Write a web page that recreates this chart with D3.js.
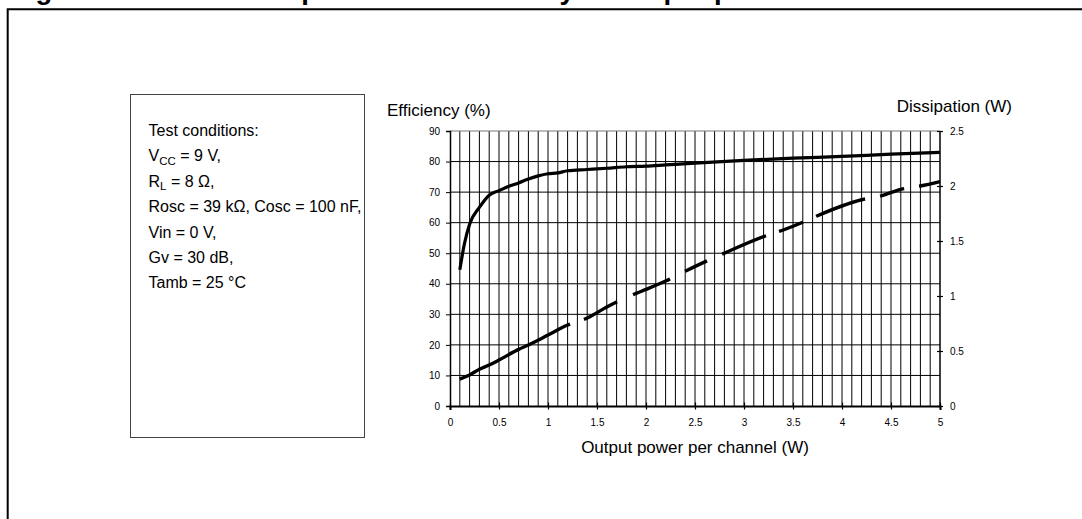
<!DOCTYPE html>
<html><head><meta charset="utf-8">
<script src="https://cdn.jsdelivr.net/npm/d3@7"></script>
<style>
html,body{margin:0;padding:0;background:#fff;}
svg{display:block;}
text{font-family:"Liberation Sans",Arial,Helvetica,sans-serif;fill:#000;}
</style></head>
<body>
<svg id="chart" width="1082" height="519"></svg>
<script>
// ---------- data ----------
const titleText = "Figure 18. Power dissipation and efficiency vs output power";
const xLabel = "Output power per channel (W)";
const yLeftLabel = "Efficiency (%)";
const yRightLabel = "Dissipation (W)";
const xTicks = [0, 0.5, 1, 1.5, 2, 2.5, 3, 3.5, 4, 4.5, 5];
const xTickLabels = ["0", "0.5", "1", "1.5", "2", "2.5", "3", "3.5", "4", "4.5", "5"];
const yLeftTicks = [0, 10, 20, 30, 40, 50, 60, 70, 80, 90];
const yRightTicks = [0, 0.5, 1, 1.5, 2, 2.5];
const yRightTickLabels = ["0", "0.5", "1", "1.5", "2", "2.5"];

// Efficiency (%) vs output power (W)
const effPower = [0.1, 0.15, 0.2, 0.3, 0.4, 0.5, 0.6, 0.7, 0.8, 0.9, 1.0, 1.1, 1.2, 1.4, 1.6, 1.8, 2.0, 2.2, 2.5, 3.0, 3.5, 4.0, 4.5, 5.0];
const effValues = [44.6, 53.5, 59.5, 65.0, 69.0, 70.5, 71.9, 73.0, 74.3, 75.3, 76.0, 76.3, 77.0, 77.4, 77.8, 78.3, 78.5, 78.9, 79.5, 80.4, 81.1, 81.7, 82.4, 83.0];

// Dissipation (W) vs output power (W)
const dissPower = [0.1, 0.2, 0.3, 0.4, 0.5, 0.7, 0.8, 1.0, 1.2, 1.4, 1.6, 1.7, 1.9, 2.0, 2.2, 2.4, 2.6, 2.8, 3.2, 3.4, 3.6, 3.75, 4.2, 4.4, 4.6, 4.8, 5.0];
const dissValues = [0.245, 0.282, 0.334, 0.373, 0.418, 0.515, 0.555, 0.645, 0.736, 0.80, 0.90, 0.946, 1.024, 1.06, 1.136, 1.225, 1.31, 1.39, 1.54, 1.60, 1.67, 1.73, 1.875, 1.91, 1.97, 2.00, 2.04];

// Test conditions box text (pieces: [text, isSubscript])
const conditionLines = [
  [["Test conditions:", false]],
  [["V", false], ["CC", true], [" = 9 V,", false]],
  [["R", false], ["L", true], [" = 8 \u03A9,", false]],
  [["Rosc = 39 k\u03A9, Cosc = 100 nF,", false]],
  [["Vin = 0 V,", false]],
  [["Gv = 30 dB,", false]],
  [["Tamb = 25 \u00B0C", false]]
];

// ---------- layout / style ----------
const W = 1082, H = 519;
const plot = {left: 450, right: 940, top: 131, bottom: 406};
// gaps of the long-dash line, expressed along the x axis (W)
const dashGaps = [[1.224, 1.367], [1.704, 1.867], [2.245, 2.398], [2.622, 2.776], [3.224, 3.357], [3.602, 3.735], [4.235, 4.388], [4.633, 4.786]];

const svg = d3.select("#chart");

const x = d3.scaleLinear().domain([0, 5]).range([plot.left, plot.right]);
const yL = d3.scaleLinear().domain([0, 90]).range([plot.bottom, plot.top]);
const yR = d3.scaleLinear().domain([0, 2.5]).range([plot.bottom, plot.top]);

// outer frame (top & left visible)
svg.append("path")
  .attr("d", `M7.7,${H} V9.2 H${W}`)
  .attr("fill", "none").attr("stroke", "#000").attr("stroke-width", 2);

// caption, clipped by the top edge as in the reference (only descenders visible)
svg.append("text")
  .attr("x", 11).attr("y", -1.5)
  .style("font-size", "27.5px").style("font-weight", "bold")
  .text(titleText);

// test conditions box
svg.append("rect")
  .attr("x", 130.5).attr("y", 94.5).attr("width", 234).attr("height", 343)
  .attr("fill", "none").attr("stroke", "#444").attr("stroke-width", 1);

const condText = svg.append("g");
conditionLines.forEach((pieces, i) => {
  const t = condText.append("text")
    .attr("x", 148.5).attr("y", 136 + i * 25.4)
    .style("font-size", "16px");
  pieces.forEach(([s, sub], j) => {
    const ts = t.append("tspan").text(s);
    if (sub) ts.attr("dy", 3.5).style("font-size", "11.5px");
    else if (j > 0 && pieces[j - 1][1]) ts.attr("dy", -3.5);
  });
});

// grid
const grid = svg.append("g");
const vGrid = x.ticks(50).filter(v => v > 0.001 && v < 4.999);
grid.selectAll("line.v").data(vGrid).join("line")
  .attr("x1", d => x(d)).attr("x2", d => x(d))
  .attr("y1", yL(0)).attr("y2", yL(90))
  .attr("stroke", "#000").attr("stroke-width", 1);
grid.selectAll("line.h").data(yLeftTicks.filter(v => v > 0)).join("line")
  .attr("x1", x(0)).attr("x2", x(5))
  .attr("y1", d => yL(d)).attr("y2", d => yL(d))
  .attr("stroke", d => d === 90 ? "#777" : "#000").attr("stroke-width", 1);
grid.append("line").attr("x1", x(5)).attr("x2", x(5)).attr("y1", yL(0)).attr("y2", yL(90))
  .attr("stroke", "#000").attr("stroke-width", 1.5);

// left axis
const axL = svg.append("g").attr("transform", `translate(${plot.left},0)`)
  .call(d3.axisLeft(yL).tickValues(yLeftTicks).tickSize(4).tickPadding(6).tickFormat(d3.format("d")));
axL.select(".domain").attr("stroke-width", 1.5);
axL.selectAll("text").style("font-size", "10px");

// right axis
const axR = svg.append("g").attr("transform", `translate(${plot.right},0)`)
  .call(d3.axisRight(yR).tickValues(yRightTicks).tickSize(3).tickPadding(7)
    .tickFormat((d, i) => yRightTickLabels[i]));
axR.select(".domain").remove();
axR.selectAll(".tick line").attr("x1", -3).attr("x2", 3).attr("stroke-width", 1.2);
axR.selectAll("text").style("font-size", "10px");

// bottom axis
const axB = svg.append("g").attr("transform", `translate(0,${plot.bottom})`)
  .call(d3.axisBottom(x).tickValues(xTicks).tickSize(4).tickPadding(8.6)
    .tickFormat((d, i) => xTickLabels[i]));
axB.select(".domain").attr("stroke-width", 2);
axB.selectAll(".tick line").attr("y1", -3.5).attr("y2", 3.5).attr("stroke-width", 1.2);
axB.selectAll("text").style("font-size", "10px");

// axis titles
svg.append("text").attr("x", 387).attr("y", 116).style("font-size", "17px").text(yLeftLabel);
svg.append("text").attr("x", 1012).attr("y", 112).attr("text-anchor", "end").style("font-size", "17px").text(yRightLabel);
svg.append("text").attr("x", x(2.5)).attr("y", 453).attr("text-anchor", "middle").style("font-size", "17px").text(xLabel);

// efficiency curve
const eff = effPower.map((p, i) => ({p, v: effValues[i]}));
svg.append("path").datum(eff)
  .attr("d", d3.line().x(d => x(d.p)).y(d => yL(d.v)).curve(d3.curveMonotoneX))
  .attr("fill", "none").attr("stroke", "#000").attr("stroke-width", 3.2)
  .attr("stroke-linejoin", "round");

// dissipation curve (long dashes)
const diss = dissPower.map((p, i) => ({p, v: dissValues[i]}));
const dPath = svg.append("path").datum(diss)
  .attr("d", d3.line().x(d => x(d.p)).y(d => yR(d.v)).curve(d3.curveMonotoneX))
  .attr("fill", "none").attr("stroke", "#000").attr("stroke-width", 3.4)
  .attr("stroke-linejoin", "round");
const node = dPath.node();
const L = node.getTotalLength();
function lenAtX(px) {
  let lo = 0, hi = L;
  for (let k = 0; k < 40; k++) {
    const m = (lo + hi) / 2;
    if (node.getPointAtLength(m).x < px) lo = m; else hi = m;
  }
  return (lo + hi) / 2;
}
const dash = [];
let prev = 0;
dashGaps.forEach(([a, b]) => {
  const la = lenAtX(x(a)), lb = lenAtX(x(b));
  dash.push(la - prev, lb - la);
  prev = lb;
});
dash.push(L - prev + 2, L);
dPath.attr("stroke-dasharray", dash.map(v => v.toFixed(2)).join(","));
</script>
</body></html>
